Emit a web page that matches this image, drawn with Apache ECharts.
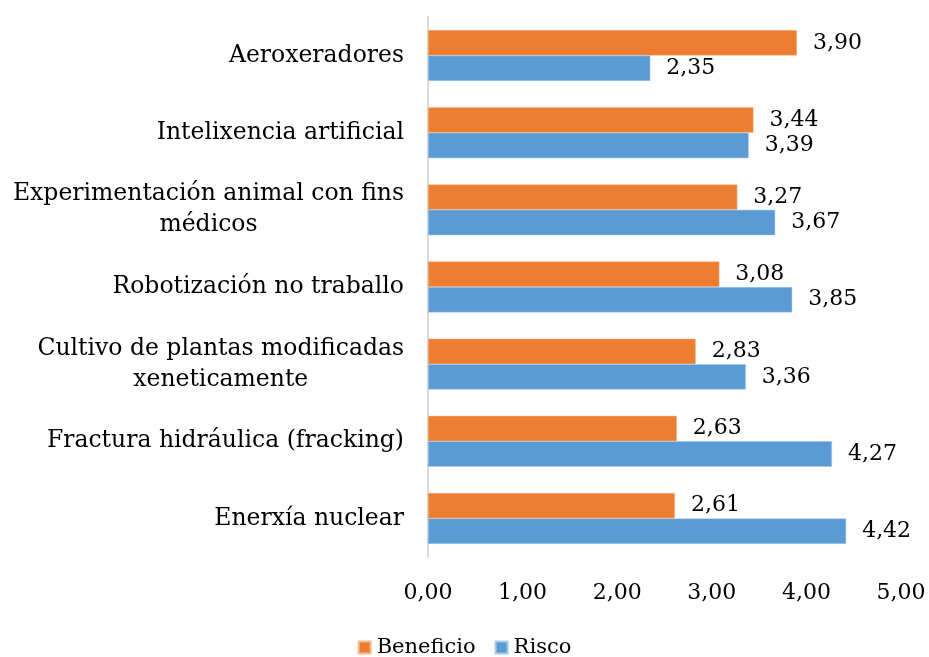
<!DOCTYPE html>
<html>
<head>
<meta charset="utf-8">
<script src="https://cdn.jsdelivr.net/npm/echarts@6/dist/echarts.min.js"></script>
<style>
  html, body { margin: 0; padding: 0; background: #fff; }
  #main { width: 929px; height: 657px; }
</style>
</head>
<body>
<div id="main"></div>
<script>
var categorias = [
  'Aeroxeradores',
  'Intelixencia artificial',
  'Experimentación animal con fins\nmédicos',
  'Robotización no traballo',
  'Cultivo de plantas modificadas\nxeneticamente',
  'Fractura hidráulica (fracking)',
  'Enerxía nuclear'
];
var beneficio = [3.90, 3.44, 3.27, 3.08, 2.83, 2.63, 2.61];
var risco = [2.35, 3.39, 3.67, 3.85, 3.36, 4.27, 4.42];
var ticksX = [0, 1, 2, 3, 4, 5];

var fonte = '"DejaVu Serif", "Liberation Serif", serif';
var tam = 23.5;

function coma(v) {
  return v.toFixed(2).replace('.', ',');
}

var chart = echarts.init(document.getElementById('main'));

chart.setOption({
  animation: false,
  textStyle: { fontFamily: fonte },
  grid: { left: 428, right: 28, top: 17, bottom: 100 },
  legend: {
    bottom: -6,
    left: 'center',
    icon: 'rect',
    itemWidth: 12,
    itemHeight: 12,
    itemGap: 19,
    textStyle: { fontFamily: fonte, fontSize: 21, color: '#000', padding: [0, 0, 0, 1] },
    data: ['Beneficio', 'Risco']
  },
  xAxis: {
    type: 'value',
    min: ticksX[0],
    max: ticksX[ticksX.length - 1],
    interval: 1,
    splitLine: { show: false },
    axisLine: { show: false },
    axisTick: { show: false },
    axisLabel: {
      margin: 25,
      fontSize: 22,
      color: '#000',
      fontFamily: fonte,
      formatter: function (v) { return coma(v); }
    }
  },
  yAxis: {
    type: 'category',
    inverse: true,
    data: categorias,
    axisLine: { show: true, lineStyle: { color: '#d9d9d9', width: 2 } },
    axisTick: { show: false },
    axisLabel: {
      margin: 24,
      color: '#000',
      fontSize: tam,
      lineHeight: 31,
      fontFamily: fonte,
      formatter: function (v) {
        return v.split('\n').map(function (l) { return '{c|' + l + '}'; }).join('\n');
      },
      rich: {
        c: { align: 'center', fontSize: tam, lineHeight: 31, fontFamily: fonte, color: '#000' }
      }
    }
  },
  series: [
    {
      name: 'Beneficio',
      type: 'bar',
      data: beneficio,
      barGap: '0%',
      barCategoryGap: '34%',
      itemStyle: { color: '#ED7D31', borderColor: '#f7b98f', borderWidth: 0.5 },
      label: {
        show: true,
        position: 'right',
        distance: 16,
        fontSize: 22,
        color: '#000',
        fontFamily: fonte,
        formatter: function (p) { return coma(p.value); }
      }
    },
    {
      name: 'Risco',
      type: 'bar',
      data: risco,
      barGap: '0%',
      barCategoryGap: '34%',
      itemStyle: { color: '#5B9BD5', borderColor: '#a9cbea', borderWidth: 0.5 },
      label: {
        show: true,
        position: 'right',
        distance: 16,
        fontSize: 22,
        color: '#000',
        fontFamily: fonte,
        formatter: function (p) { return coma(p.value); }
      }
    }
  ]
});
</script>
</body>
</html>
